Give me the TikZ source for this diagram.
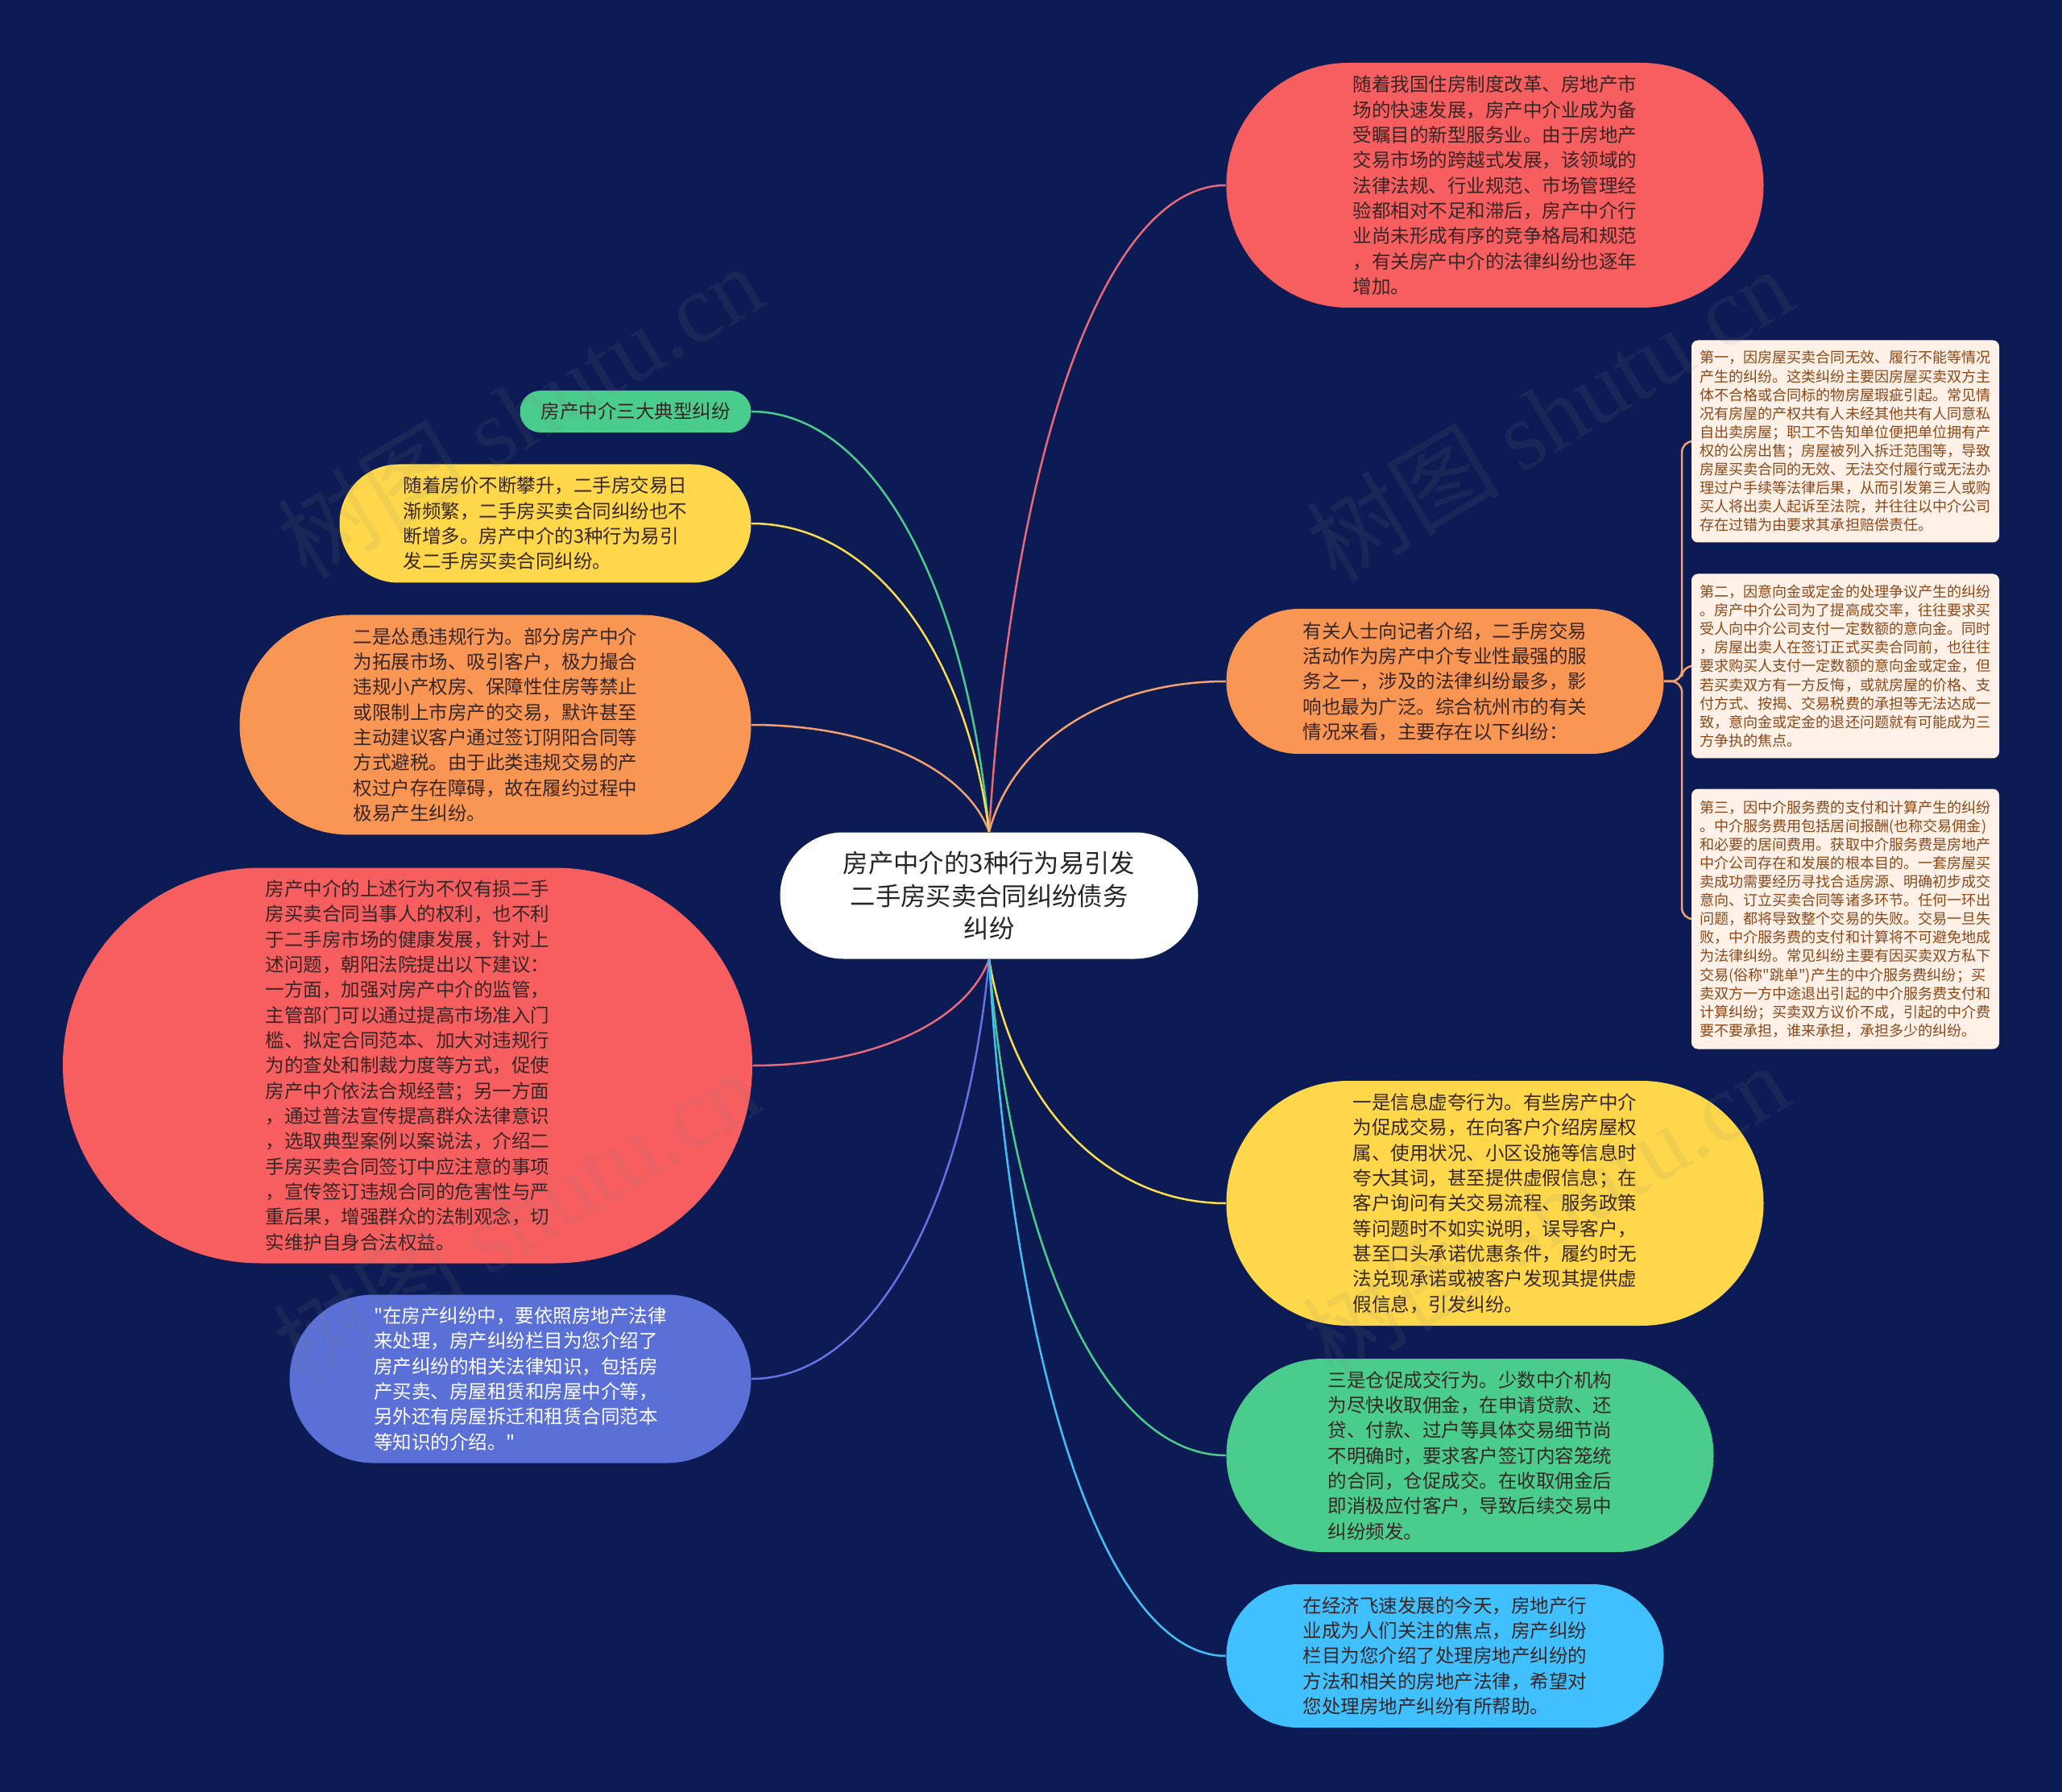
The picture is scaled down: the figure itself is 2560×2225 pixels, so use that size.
\documentclass[tikz,border=0pt]{standalone}
\usepackage{fontspec}
\setmainfont{Noto Sans CJK SC}[Ligatures=TeXOff]
\newfontfamily\wmlatin{Liberation Serif}
\usetikzlibrary{calc,backgrounds}
\pgfdeclarelayer{bglayer}
\pgfsetlayers{bglayer,main}

\definecolor{bgnavy}{RGB}{12,27,84}
\definecolor{cred}{RGB}{246,94,96}
\definecolor{corange}{RGB}{250,150,83}
\definecolor{cyellow}{RGB}{254,216,74}
\definecolor{cgreen}{RGB}{74,205,140}
\definecolor{cblue}{RGB}{64,192,255}
\definecolor{cindigo}{RGB}{90,112,214}
\definecolor{peachbg}{RGB}{255,241,232}
\definecolor{peachtxt}{RGB}{140,72,24}
\definecolor{lpink}{RGB}{232,106,122}
\definecolor{lorange}{RGB}{244,160,110}
\definecolor{lyellow}{RGB}{250,220,80}
\definecolor{lgreen}{RGB}{74,205,140}
\definecolor{lindigo}{RGB}{100,115,225}
\definecolor{lblue}{RGB}{64,192,245}
\definecolor{tdark}{RGB}{55,38,38}

\tikzset{
  mmnode/.style={rectangle, inner sep=0pt, align=left, text=tdark,
    font=\fontsize{7.05pt}{9.4pt}\selectfont},
  sbox/.style={rectangle, inner sep=0pt, align=left, rounded corners=2.4pt,
    fill=peachbg, text=peachtxt, minimum width=114.6pt,
    font=\fontsize{5.43pt}{6.93pt}\selectfont},
  link/.style={line width=0.75pt},
  wm/.style={inner sep=0pt, rotate=31, text=gray, text opacity=0.11,
    font=\fontsize{36pt}{40pt}\selectfont},
}
\newcommand{\mmlink}[3]{%
  \draw[link,#1] let \p1=(#2), \p2=(#3) in (\p1) .. controls ({\x1+0.1*(\x2-\x1)},{\y1+0.6*(\y2-\y1)}) and ({\x2-0.5*(\x2-\x1)},{\y2}) .. (\p2);}

\begin{document}
\begin{tikzpicture}[x=0.3pt,y=-0.3pt]
\useasboundingbox (0,0) rectangle (2560,2225);

% central
\node[mmnode, fill=white, text=black!85, align=center, rounded corners=23.5pt,
  minimum width=155.7pt, minimum height=47.1pt,
  font=\fontsize{9.4pt}{12.25pt}\selectfont] (C) at (1228,1112)
  {房产中介的3种行为易引发\\二手房买卖合同纠纷债务\\纠纷};

% right side
\node[mmnode, fill=cred, rounded corners=45.5pt, minimum width=200.1pt, minimum height=91.2pt] (R1) at (1856,230)
{随着我国住房制度改革、房地产市\\场的快速发展，房产中介业成为备\\受瞩目的新型服务业。由于房地产\\交易市场的跨越式发展，该领域的\\法律法规、行业规范、市场管理经\\验都相对不足和滞后，房产中介行\\业尚未形成有序的竞争格局和规范\\，有关房产中介的法律纠纷也逐年\\增加。};

\node[mmnode, fill=corange, rounded corners=26.9pt, minimum width=162.9pt, minimum height=54pt] (R2) at (1794,846)
{有关人士向记者介绍，二手房交易\\活动作为房产中介专业性最强的服\\务之一，涉及的法律纠纷最多，影\\响也最为广泛。综合杭州市的有关\\情况来看，主要存在以下纠纷：};

\node[sbox, minimum height=75.3pt] (S1) at (2291,548)
{第一，因房屋买卖合同无效、履行不能等情况\\产生的纠纷。这类纠纷主要因房屋买卖双方主\\体不合格或合同标的物房屋瑕疵引起。常见情\\况有房屋的产权共有人未经其他共有人同意私\\自出卖房屋；职工不告知单位便把单位拥有产\\权的公房出售；房屋被列入拆迁范围等，导致\\房屋买卖合同的无效、无法交付履行或无法办\\理过户手续等法律后果，从而引发第三人或购\\买人将出卖人起诉至法院，并往往以中介公司\\存在过错为由要求其承担赔偿责任。};

\node[sbox, minimum height=68.7pt] (S2) at (2291,827)
{第二，因意向金或定金的处理争议产生的纠纷\\。房产中介公司为了提高成交率，往往要求买\\受人向中介公司支付一定数额的意向金。同时\\，房屋出卖人在签订正式买卖合同前，也往往\\要求购买人支付一定数额的意向金或定金，但\\若买卖双方有一方反悔，或就房屋的价格、支\\付方式、按揭、交易税费的承担等无法达成一\\致，意向金或定金的退还问题就有可能成为三\\方争执的焦点。};

\node[sbox, minimum height=96.9pt] (S3) at (2291,1141)
{第三，因中介服务费的支付和计算产生的纠纷\\。中介服务费用包括居间报酬(也称交易佣金)\\和必要的居间费用。获取中介服务费是房地产\\中介公司存在和发展的根本目的。一套房屋买\\卖成功需要经历寻找合适房源、明确初步成交\\意向、订立买卖合同等诸多环节。任何一环出\\问题，都将导致整个交易的失败。交易一旦失\\败，中介服务费的支付和计算将不可避免地成\\为法律纠纷。常见纠纷主要有因买卖双方私下\\交易(俗称"跳单")产生的中介服务费纠纷；买\\卖双方一方中途退出引起的中介服务费支付和\\计算纠纷；买卖双方议价不成，引起的中介费\\要不要承担，谁来承担，承担多少的纠纷。};

\node[mmnode, fill=cyellow, rounded corners=45.5pt, minimum width=200.1pt, minimum height=91.2pt] (R3) at (1856,1494)
{一是信息虚夸行为。有些房产中介\\为促成交易，在向客户介绍房屋权\\属、使用状况、小区设施等信息时\\夸大其词，甚至提供虚假信息；在\\客户询问有关交易流程、服务政策\\等问题时不如实说明，误导客户，\\甚至口头承诺优惠条件，履约时无\\法兑现承诺或被客户发现其提供虚\\假信息，引发纠纷。};

\node[mmnode, fill=cgreen, rounded corners=35.9pt, minimum width=181.5pt, minimum height=72pt] (R4) at (1825,1807)
{三是仓促成交行为。少数中介机构\\为尽快收取佣金，在申请贷款、还\\贷、付款、过户等具体交易细节尚\\不明确时，要求客户签订内容笼统\\的合同，仓促成交。在收取佣金后\\即消极应付客户，导致后续交易中\\纠纷频发。};

\node[mmnode, fill=cblue, rounded corners=26.6pt, minimum width=162.9pt, minimum height=53.4pt] (R5) at (1794,2056)
{在经济飞速发展的今天，房地产行\\业成为人们关注的焦点，房产纠纷\\栏目为您介绍了处理房地产纠纷的\\方法和相关的房地产法律，希望对\\您处理房地产纠纷有所帮助。};

% left side
\node[mmnode, fill=cgreen, rounded corners=7.7pt, minimum width=86.1pt, minimum height=15.6pt] (L1) at (789,511)
{房产中介三大典型纠纷};

\node[mmnode, fill=cyellow, rounded corners=22pt, minimum width=153.3pt, minimum height=44.1pt] (L2) at (677,650)
{随着房价不断攀升，二手房交易日\\渐频繁，二手房买卖合同纠纷也不\\断增多。房产中介的3种行为易引\\发二手房买卖合同纠纷。};

\node[mmnode, fill=corange, rounded corners=40.9pt, minimum width=190.5pt, minimum height=81.9pt] (L3) at (615,900)
{二是怂恿违规行为。部分房产中介\\为拓展市场、吸引客户，极力撮合\\违规小产权房、保障性住房等禁止\\或限制上市房产的交易，默许甚至\\主动建议客户通过签订阴阳合同等\\方式避税。由于此类违规交易的产\\权过户存在障碍，故在履约过程中\\极易产生纠纷。};

\node[mmnode, fill=cred, rounded corners=73.6pt, minimum width=256.8pt, minimum height=147.3pt] (L4) at (506,1323)
{房产中介的上述行为不仅有损二手\\房买卖合同当事人的权利，也不利\\于二手房市场的健康发展，针对上\\述问题，朝阳法院提出以下建议：\\一方面，加强对房产中介的监管，\\主管部门可以通过提高市场准入门\\槛、拟定合同范本、加大对违规行\\为的查处和制裁力度等方式，促使\\房产中介依法合规经营；另一方面\\，通过普法宣传提高群众法律意识\\，选取典型案例以案说法，介绍二\\手房买卖合同签订中应注意的事项\\，宣传签订违规合同的危害性与严\\重后果，增强群众的法制观念，切\\实维护自身合法权益。};

\node[mmnode, fill=cindigo, text=white, rounded corners=31.3pt, minimum width=171.9pt, minimum height=62.7pt] (L5) at (646,1712)
{"在房产纠纷中，要依照房地产法律\\来处理，房产纠纷栏目为您介绍了\\房产纠纷的相关法律知识，包括房\\产买卖、房屋租赁和房屋中介等，\\另外还有房屋拆迁和租赁合同范本\\等知识的介绍。"};

% connectors
\begin{pgfonlayer}{bglayer}
\fill[bgnavy] (0,0) rectangle (2560,2225);
\mmlink{lpink}{C.north}{R1.west}
\mmlink{lorange}{C.north}{R2.west}
\mmlink{lgreen}{C.north}{L1.east}
\mmlink{lyellow}{C.north}{L2.east}
\mmlink{lorange}{C.north}{L3.east}
\mmlink{lpink}{C.south}{L4.east}
\mmlink{lindigo}{C.south}{L5.east}
\mmlink{lyellow}{C.south}{R3.west}
\mmlink{lgreen}{C.south}{R4.west}
\mmlink{lblue}{C.south}{R5.west}
\draw[link, lorange, rounded corners=4pt] (R2.east) -- ++(22,0) |- (S1.west);
\draw[link, lorange, rounded corners=4pt] (R2.east) -- ++(22,0) |- (S2.west);
\draw[link, lorange, rounded corners=4pt] (R2.east) -- ++(22,0) |- (S3.west);
\end{pgfonlayer}

% watermarks
\node[wm] (wm1) at (645,510) {树图 {\wmlatin shutu.cn}};
\node[wm] (wm2) at (1923,514) {树图 {\wmlatin shutu.cn}};
\node[wm] (wm3) at (640,1510) {树图 {\wmlatin shutu.cn}};
\node[wm] (wm4) at (1918,1502) {树图 {\wmlatin shutu.cn}};
\end{tikzpicture}
\end{document}
